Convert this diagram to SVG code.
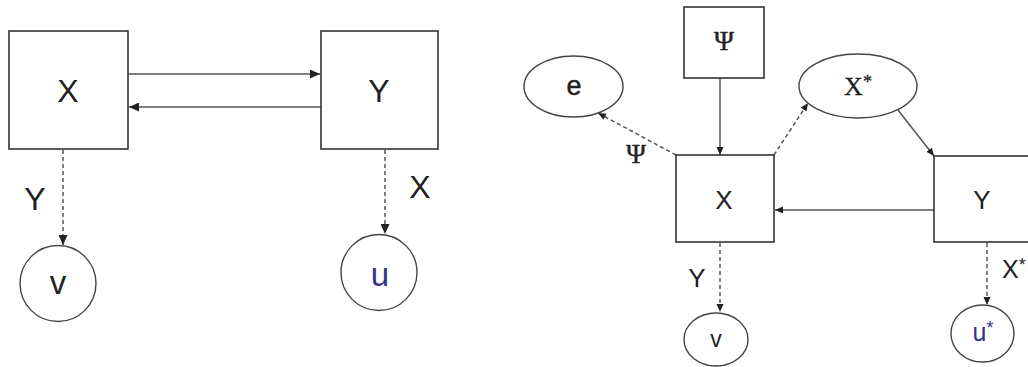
<svg xmlns="http://www.w3.org/2000/svg" width="1028" height="367" viewBox="0 0 1028 367">
<defs>
<style>
.box{fill:#fff;stroke:#333;stroke-width:1.6}
.circ{fill:#fff;stroke:#444;stroke-width:1.4}
.ln{fill:none;stroke:#555;stroke-width:1.5}
.dash{fill:none;stroke:#555;stroke-width:1.5;stroke-dasharray:4 3}
.sans{font-family:"Liberation Sans",Arial,sans-serif;fill:#222;text-anchor:middle}
.serif{font-family:"Liberation Serif","Times New Roman",serif;fill:#222;text-anchor:middle}
.blue{fill:#33338a}
.sup{font-size:18px}
</style>
<marker id="aL" markerUnits="userSpaceOnUse" markerWidth="11" markerHeight="9" refX="10" refY="4.5" orient="auto"><path d="M0,0 L10,4.5 L0,9 z" fill="#222"/></marker>
<marker id="aS" markerUnits="userSpaceOnUse" markerWidth="9" markerHeight="8" refX="8" refY="3.5" orient="auto"><path d="M0,0 L8,3.5 L0,7 z" fill="#222"/></marker>
</defs>
<rect width="1028" height="367" fill="#fff"/>

<g id="connectors">
<line class="ln" x1="128" y1="74" x2="320" y2="74" marker-end="url(#aL)"/>
<line class="ln" x1="321" y1="107" x2="129" y2="107" marker-end="url(#aL)"/>
<line class="dash" x1="63" y1="150" x2="63" y2="245" marker-end="url(#aL)"/>
<line class="dash" x1="385" y1="150" x2="385" y2="234" marker-end="url(#aL)"/>

<line class="ln" x1="720" y1="78" x2="720" y2="155" marker-end="url(#aS)"/>
<line class="dash" x1="676" y1="155" x2="598" y2="113" marker-end="url(#aS)"/>
<line class="dash" x1="774" y1="155" x2="808" y2="103" marker-end="url(#aS)"/>
<line class="ln" x1="898" y1="110" x2="934" y2="156" marker-end="url(#aS)"/>
<line class="ln" x1="934" y1="210" x2="775" y2="210" marker-end="url(#aS)"/>
<line class="dash" x1="720" y1="243" x2="720" y2="312" marker-end="url(#aS)"/>
<line class="dash" x1="987" y1="243" x2="987" y2="305" marker-end="url(#aS)"/>
</g>

<g id="L-X"><rect class="box" x="9" y="31" width="119" height="118"/><text class="sans" x="68" y="102" font-size="32">X</text></g>
<g id="L-Y"><rect class="box" x="321" y="31" width="117" height="118"/><text class="sans" x="379" y="102" font-size="32">Y</text></g>
<g id="L-v"><circle class="circ" cx="58" cy="283.5" r="38"/><text class="sans" x="58" y="294" font-size="33">v</text></g>
<g id="L-u"><circle class="circ" cx="379" cy="272.5" r="38"/><text class="sans blue" x="380" y="286" font-size="33">u</text></g>
<g id="L-labels">
<text class="sans" x="35" y="210" font-size="32">Y</text>
<text class="sans" x="420" y="198" font-size="32">X</text>
</g>

<g id="R-Psi"><rect class="box" x="684" y="7" width="80" height="71"/><text class="serif" x="724" y="50" font-size="27" stroke="#222" stroke-width="0.4">Ψ</text></g>
<g id="R-e"><ellipse class="circ" cx="573.5" cy="86.5" rx="49.5" ry="30.5"/><text class="sans" x="574" y="95" font-size="27" stroke="#222" stroke-width="0.5">e</text></g>
<g id="R-Xstar"><ellipse class="circ" cx="858" cy="86" rx="59" ry="32"/><text class="serif" x="858" y="95" font-size="26" stroke="#222" stroke-width="0.3">X<tspan class="sup" dy="-7">*</tspan></text></g>
<g id="R-X"><rect class="box" x="676" y="155" width="98" height="87"/><text class="sans" x="724" y="209" font-size="26">X</text></g>
<g id="R-Y"><rect class="box" x="934" y="156" width="110" height="86"/><text class="sans" x="982" y="209" font-size="26">Y</text></g>
<g id="R-v"><ellipse class="circ" cx="716" cy="339.5" rx="32" ry="26.5"/><text class="sans" x="716" y="347" font-size="23">v</text></g>
<g id="R-ustar"><ellipse class="circ" cx="982.5" cy="333.5" rx="31.5" ry="28.5"/><text class="sans blue" x="983" y="341" font-size="25">u<tspan class="sup" dy="-7">*</tspan></text></g>
<g id="R-labels">
<text class="serif" x="636" y="163" font-size="27" stroke="#222" stroke-width="0.4">Ψ</text>
<text class="sans" x="697" y="287" font-size="26">Y</text>
<text class="sans" x="1002" y="278" font-size="25" style="text-anchor:start">X<tspan class="sup" dy="-7">*</tspan></text>
</g>
</svg>
